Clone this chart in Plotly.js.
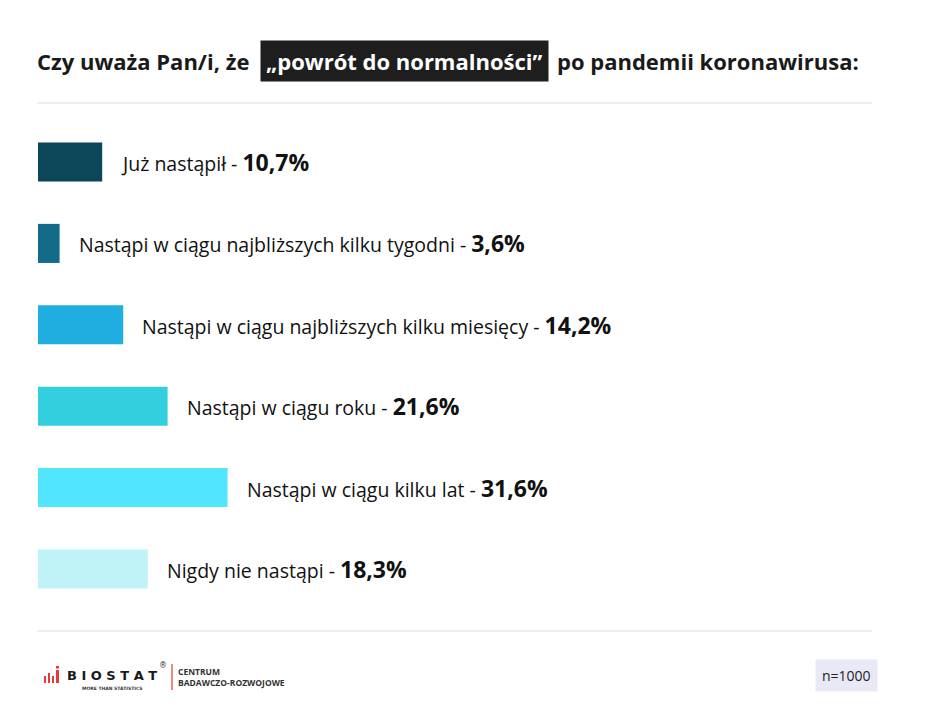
<!DOCTYPE html>
<html>
<head>
<meta charset="utf-8">
<script src="https://cdn.plot.ly/plotly-3.0.1.min.js"></script>
<style>html,body{margin:0;padding:0;background:#fff;}#chart{width:926px;height:725px;}</style>
</head>
<body>
<div id="chart"></div>
<script>
const categories = [
  "Już nastąpił",
  "Nastąpi w ciągu najbliższych kilku tygodni",
  "Nastąpi w ciągu najbliższych kilku miesięcy",
  "Nastąpi w ciągu roku",
  "Nastąpi w ciągu kilku lat",
  "Nigdy nie nastąpi"
];
const values = [10.7, 3.6, 14.2, 21.6, 31.6, 18.3];
const valueLabels = ["10,7%", "3,6%", "14,2%", "21,6%", "31,6%", "18,3%"];
const barColors = ["#0c4759", "#136a89", "#20ade0", "#33cfdf", "#52e5fe", "#bff3f8"];
const titleParts = ["Czy uważa Pan/i, że", "„powrót do normalności”", "po pandemii koronawirusa:"];
const sampleLabel = "n=1000";

const W = 926, H = 725;
const mL = 38, mR = 54, mT = 103, mB = 94;
const PW = W - mL - mR, PH = H - mT - mB;
const px = x => (x - mL) / PW;
const py = y => (H - mB - y) / PH;
const FONT = "Open Sans, sans-serif";

const trace = {
  type: "bar",
  orientation: "h",
  y: categories,
  x: values,
  width: 0.48,
  marker: {color: barColors, line: {width: 0}},
  hoverinfo: "none"
};

const annotations = categories.map((c, i) => ({
  x: values[i], y: c, xref: "x", yref: "y",
  xanchor: "left", yanchor: "middle", xshift: 17,
  showarrow: false,
  text: c + " - <b><span style='font-size:23px'>" + valueLabels[i] + "</span></b>",
  font: {family: FONT, size: 19.5, color: "#111"}
}));

// title pieces
annotations.push({
  xref: "paper", yref: "paper", x: px(35), y: py(61), xanchor: "left", yanchor: "middle",
  showarrow: false, text: "<b>" + titleParts[0] + "</b>",
  font: {family: FONT, size: 22, color: "#1a1a1a"}
});
annotations.push({
  xref: "paper", yref: "paper", x: px(260), y: py(61), xanchor: "left", yanchor: "middle",
  showarrow: false, text: "<b>" + titleParts[1] + "</b>",
  bgcolor: "#1e1e1e", borderpad: 5,
  font: {family: FONT, size: 22, color: "#ffffff"}
});
annotations.push({
  xref: "paper", yref: "paper", x: px(555), y: py(61), xanchor: "left", yanchor: "middle",
  showarrow: false, text: "<b>" + titleParts[2] + "</b>",
  font: {family: FONT, size: 22, color: "#1a1a1a"}
});

// n label
annotations.push({
  xref: "paper", yref: "paper", x: px(846), y: py(675), xanchor: "center", yanchor: "middle",
  showarrow: false, text: sampleLabel, bgcolor: "#e8e9f4", borderpad: 6,
  font: {family: FONT, size: 14, color: "#222"}
});

// logo text
annotations.push({
  xref: "paper", yref: "paper", x: px(65), y: py(675), xanchor: "left", yanchor: "middle",
  showarrow: false, text: "<b>B I O S T A T</b>",
  font: {family: "DejaVu Sans, sans-serif", size: 13, color: "#1a1a1a"}
});
annotations.push({
  xref: "paper", yref: "paper", x: px(112), y: py(688), xanchor: "center", yanchor: "middle",
  showarrow: false, text: "<b>MORE THAN STATISTICS</b>",
  font: {family: "DejaVu Sans, sans-serif", size: 4.5, color: "#333"}
});
annotations.push({
  xref: "paper", yref: "paper", x: px(163), y: py(665), xanchor: "center", yanchor: "middle",
  showarrow: false, text: "®",
  font: {family: "DejaVu Sans, sans-serif", size: 8, color: "#333"}
});
annotations.push({
  xref: "paper", yref: "paper", x: px(176), y: py(677), xanchor: "left", yanchor: "middle",
  showarrow: false, align: "left", text: "<b>CENTRUM<br>BADAWCZO-ROZWOJOWE</b>",
  font: {family: FONT, size: 8.5, color: "#333"}
});

const shapes = [
  {type: "line", xref: "paper", yref: "paper", x0: px(37), x1: 1, y0: 1, y1: 1, line: {color: "#eeeef3", width: 2}},
  {type: "line", xref: "paper", yref: "paper", x0: px(37), x1: 1, y0: 0, y1: 0, line: {color: "#eeeef3", width: 2}},
  {type: "line", xref: "paper", yref: "paper", x0: px(172), x1: px(172), y0: py(664), y1: py(690), line: {color: "#e53935", width: 1.2}}
];
// logo icon bars (decoration)
[[44, 46, 676, 683], [48, 50, 673, 683], [52, 54, 676, 683], [56, 59, 670, 683], [56, 59, 666, 668.5]].forEach(r => {
  shapes.push({type: "rect", xref: "paper", yref: "paper", x0: px(r[0]), x1: px(r[1]), y0: py(r[3]), y1: py(r[2]),
    line: {width: 0}, fillcolor: "#e53935"});
});

const layout = {
  width: W, height: H,
  margin: {l: mL, r: mR, t: mT, b: mB},
  paper_bgcolor: "#ffffff", plot_bgcolor: "#ffffff",
  showlegend: false,
  xaxis: {range: [0, PW / 6], visible: false, fixedrange: true},
  yaxis: {type: "category", range: [5.762, -0.725], visible: false, fixedrange: true},
  annotations: annotations,
  shapes: shapes,
  font: {family: FONT}
};

Plotly.newPlot("chart", [trace], layout, {displayModeBar: false, staticPlot: true});
</script>
</body>
</html>
